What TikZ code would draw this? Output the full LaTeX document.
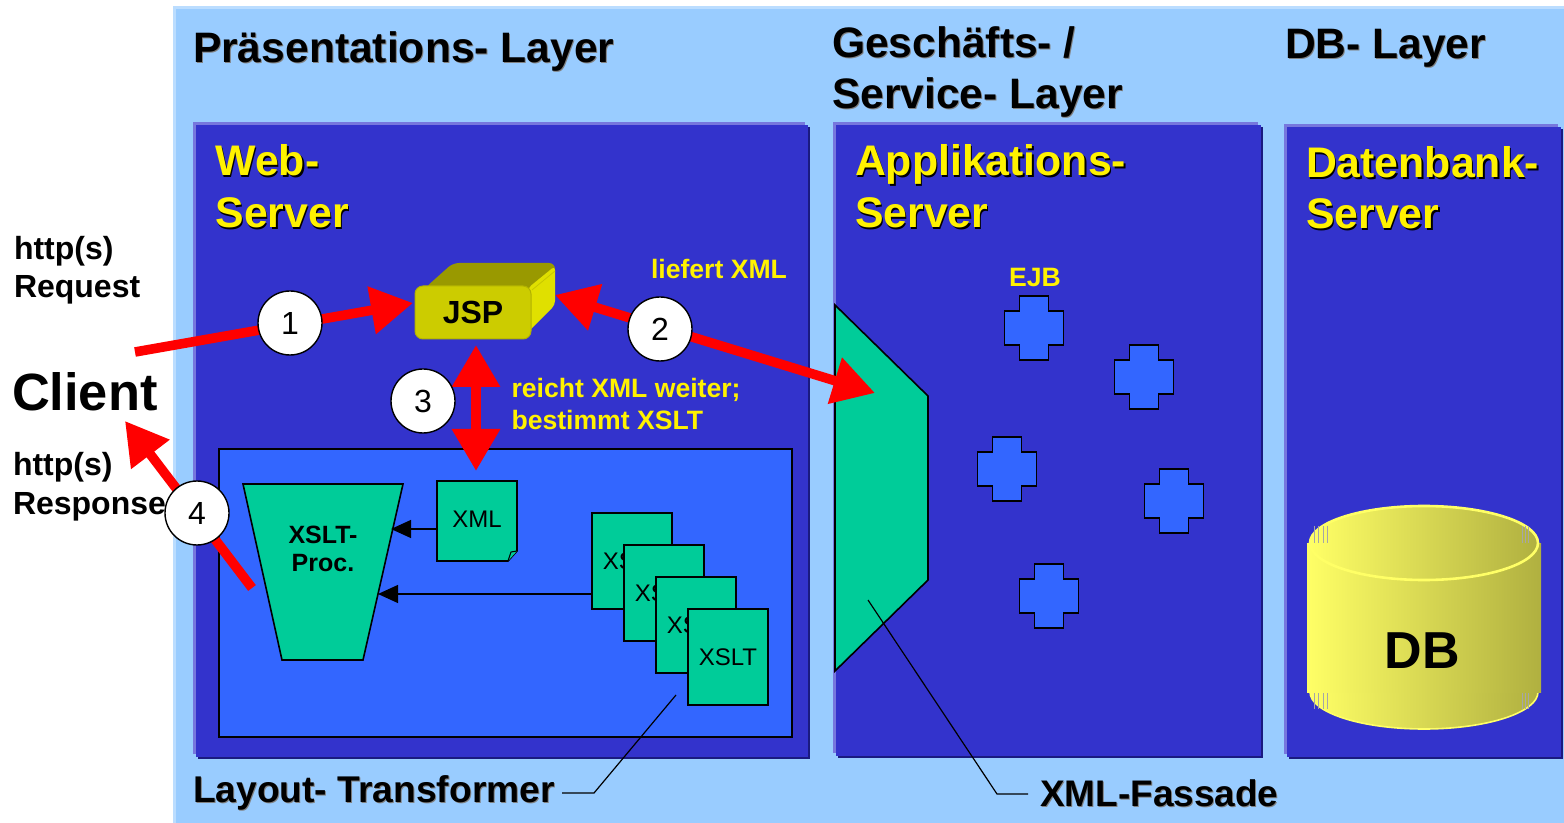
\documentclass[tikz,border=0pt]{standalone}
\usepackage{fontspec}
\setmainfont{Liberation Sans}
\usetikzlibrary{arrows.meta,calc}
\definecolor{bgblue}{HTML}{99CCFF}
\definecolor{bgedge}{HTML}{BBDDFF}
\definecolor{panel}{HTML}{3333CC}
\definecolor{panelhl}{HTML}{7777DD}
\definecolor{panello}{HTML}{1A1A80}
\definecolor{inner}{HTML}{3366FF}
\definecolor{teal}{HTML}{00CC99}
\definecolor{jsptop}{HTML}{999900}
\definecolor{jspfront}{HTML}{CCCC00}
\definecolor{jspside}{HTML}{E0E000}
\definecolor{dbl}{HTML}{FFFF66}
\definecolor{dbr}{HTML}{B0B040}
\newcommand{\shad}[3]{\rlap{\kern#3\raisebox{-#3}{\textcolor{#1}{#2}}}#2}
\tikzset{
  txt/.style={inner sep=0pt,outer sep=0pt,anchor=base west,font=\bfseries},
  title/.style={txt,font=\fontsize{21.3}{24}\bfseries},
  ytitle/.style={txt,font=\fontsize{21.4}{24}\bfseries,text=yellow},
  ysmall/.style={txt,font=\fontsize{13.3}{16}\bfseries,text=yellow},
  lab/.style={txt,font=\fontsize{16}{19}\bfseries},
  sheet/.style={draw=black,line width=0.8pt,fill=teal,outer sep=0pt},
  sheetnode/.style={sheet,minimum width=40pt,minimum height=48pt,inner sep=0pt,anchor=north west,font=\fontsize{12}{14}\selectfont},
  crossbox/.style={draw=black,line width=0.9pt,fill=inner},
  num/.style={circle,draw=black,line width=0.7pt,fill=white,minimum size=32pt,inner sep=0pt,font=\fontsize{16}{19}\selectfont},
  redarrow/.style={draw=red,line width=4.8pt},
  thinline/.style={draw=black,line width=0.6pt},
  stripe/.style={draw=gray!70,line width=0.3pt},
  dbshade/.style={left color=dbl,right color=dbr},
}
\newcommand{\panelbox}[4]{%
  \fill[panello] (#1+5,#2+5) rectangle (#3+2,#4+2);
  \fill[panelhl] (#1,#2) rectangle (#3-3,#4-3);
  \fill[panel] (#1+3,#2+3) rectangle (#3,#4);
}
\newcommand{\crossat}[3]{%
  \path[crossbox] ($(#1,#2)+(-14.5,-32)$) -- ++(29,0) -- ++(0,15) -- ++(15,0) -- ++(0,34) -- ++(-15,0) -- ++(0,15) -- ++(-29,0) -- ++(0,-15) -- ++(-15,0) -- ++(0,-34) -- ++(15,0) -- cycle;
  \coordinate (#3) at (#1,#2);
}
\begin{document}
\begin{tikzpicture}[x=0.5pt,y=-0.5pt]
\useasboundingbox (0,0) rectangle (1564,823);
\fill[white] (0,0) rectangle (1564,823);
\fill[bgedge] (173,6) rectangle (1564,823);
\fill[bgblue] (176,9) rectangle (1564,823);
\panelbox{193}{122}{808}{757}
\panelbox{833}{122}{1261}{756}
\panelbox{1284}{124}{1561}{757}
% titles
\node[title] (t1) at (193,63) {\shad{gray}{Präsentations- Layer}{0.5pt}};
\node[title] (t2) at (832,58) {\shad{gray}{Geschäfts- /}{0.5pt}};
\node[title] (t3) at (832,109) {\shad{gray}{Service- Layer}{0.5pt}};
\node[title] (t4) at (1285,59) {\shad{gray}{DB- Layer}{0.5pt}};
\node[ytitle] (w1) at (215.5,176) {\shad{black}{Web-}{0.7pt}};
\node[ytitle] (w2) at (215.5,228) {\shad{black}{Server}{0.7pt}};
\node[ytitle] (a1) at (855,176) {\shad{black}{Applikations-}{0.7pt}};
\node[ytitle] (a2) at (855,228) {\shad{black}{Server}{0.7pt}};
\node[ytitle] (d1) at (1306,178) {\shad{black}{Datenbank-}{0.7pt}};
\node[ytitle] (d2) at (1306,229) {\shad{black}{Server}{0.7pt}};
% client
\node[lab] (req1) at (14,260) {http(s)};
\node[lab] (req2) at (14,298) {Request};
\node[txt,font=\fontsize{26.2}{30}\bfseries] (client) at (12,411) {Client};
\node[lab] (res1) at (13,476) {http(s)};
\node[lab] (res2) at (13,515) {Response};
% inner box
\node[draw=black,line width=0.8pt,fill=inner,minimum width=286.5pt,minimum height=144pt,inner sep=0pt,outer sep=0pt,anchor=north west] (lt) at (219,449) {};
% JSP
\fill[jsptop,rounded corners=3pt] (425,288) -- (453,263) -- (555,263) -- (555,275) -- (530,290) -- cycle;
\fill[jspside,rounded corners=2pt] (528,288) -- (555,266) -- (555,305) -- (528,332) -- cycle;
\draw[jsptop!35!jspside,line width=0.4pt] (532,290) -- (555,271);
\node[draw=jsptop!50!jspfront,line width=0.5pt,fill=jspfront,rounded corners=4pt,minimum width=58pt,minimum height=26.5pt,inner sep=0pt,outer sep=0pt,anchor=north west,font=\fontsize{16}{19}\bfseries] (jsp) at (415,286) {JSP};
% funnel
\path[sheet] (243,484) -- (403,484) -- (363,660) -- (282,660) -- cycle;
\node[inner sep=0pt,font=\fontsize{12.5}{14}\bfseries,align=center] (proc) at (323,549) {XSLT-\\Proc.};
% XML note
\path[sheet] (437,481) -- (517,481) -- (517,551) -- (508,561) -- (437,561) -- cycle;
\path[sheet,line width=0.5pt] (508,561) -- (511,552) -- (517,551);
\node[inner sep=0pt,font=\fontsize{12}{14}\selectfont] (xml) at (477,519) {XML};
% sheets
\node[sheetnode] (x1) at (592,513) {XSLT};
\node[sheetnode] (x2) at (624,545) {XSLT};
\node[sheetnode] (x3) at (656,577) {XSLT};
\node[sheetnode] (x4) at (688,609) {XSLT};
% internal connectors
\coordinate (pin1) at (391,529);
\coordinate (pin2) at (378,594);
\coordinate (xmlw) at (437,529);
\draw[thinline,-{Triangle[length=10pt,width=9pt]}] (xmlw) -- (pin1);
\draw[thinline,-{Triangle[length=10pt,width=9pt]}] (x1.west |- pin2) -- (pin2);
% facade
\path[sheet] (835,305) -- (928,396) -- (928,580) -- (835,671) -- cycle;
% crosses
\crossat{1034}{328}{c1}
\crossat{1144}{377}{c2}
\crossat{1007}{469}{c3}
\crossat{1174}{501}{c4}
\crossat{1049}{596}{c5}
\node[ysmall,anchor=base] (ejb) at (1035,287) {EJB};
% DB
\path[dbshade,draw=dbl,line width=0.8pt] (1424,692) ellipse [x radius=114,y radius=37];
\path[dbshade] (1424,543) ellipse [x radius=114,y radius=37];
\foreach \xx in {1314,1318,1323,1327,1522,1525,1528} {
  \draw[stripe] (\xx,526) -- (\xx,543);
  \draw[stripe] (\xx,692) -- (\xx,709);
}
\path[dbshade] (1307,544) rectangle (1541,692);
\path[dbshade,draw=dbl,line width=1.3pt] (1424,543) ellipse [x radius=114,y radius=37];
\foreach \xx in {1314,1318,1323,1327,1522,1525,1528} {
  \draw[stripe] (\xx,526) -- (\xx,543);
}
\node[inner sep=0pt,anchor=base,font=\fontsize{26}{30}\bfseries] (db) at (1422,668.5) {DB};
% labels
\node[ysmall] (l1) at (651,279) {liefert XML};
\node[ysmall] (l2) at (511.5,398) {reicht XML weiter;};
\node[ysmall] (l3) at (511.5,430) {bestimmt XSLT};
\node[txt,font=\fontsize{18.6}{23}\bfseries] (lay) at (193,802) {\shad{gray}{Layout- Transformer}{0.5pt}};
\node[txt,font=\fontsize{18.5}{23}\bfseries] (fas) at (1040,806) {\shad{gray}{XML-Fassade}{0.5pt}};
% leaders
\coordinate (ll) at (594,793);
\coordinate (lle) at (676,695);
\coordinate (fl) at (997,794);
\coordinate (fle) at (868,600);
\coordinate (lls) at (562,793);
\coordinate (fls) at (1028,794);
\draw[thinline] (lls) -- (ll) -- (lle);
\draw[thinline] (fls) -- (fl) -- (fle);
% red arrows
\coordinate (a1s) at (135,352);
\coordinate (a1e) at (413,303);
\coordinate (a2s) at (555,295);
\coordinate (a2e) at (875,393);
\coordinate (a3s) at (476,345);
\coordinate (a3e) at (476,471);
\coordinate (a4s) at (252,588);
\coordinate (a4e) at (125,421);
\draw[redarrow,-{Triangle[length=21pt,width=23pt,color=red]}] (a1s) -- (a1e);
\draw[redarrow,{Triangle[length=21pt,width=23pt,color=red]}-{Triangle[length=21pt,width=23pt,color=red]}] (a2s) -- (a2e);
\draw[redarrow,{Triangle[length=21pt,width=23pt,color=red]}-{Triangle[length=21pt,width=23pt,color=red]}] (a3s) -- (a3e);
\draw[redarrow,-{Triangle[length=21pt,width=23pt,color=red]}] (a4s) -- (a4e);
% numbers
\node[num] (n1) at (290,323) {1};
\node[num] (n2) at (660,329) {2};
\node[num] (n3) at (423,401) {3};
\node[num] (n4) at (197,513) {4};
\end{tikzpicture}
\end{document}
